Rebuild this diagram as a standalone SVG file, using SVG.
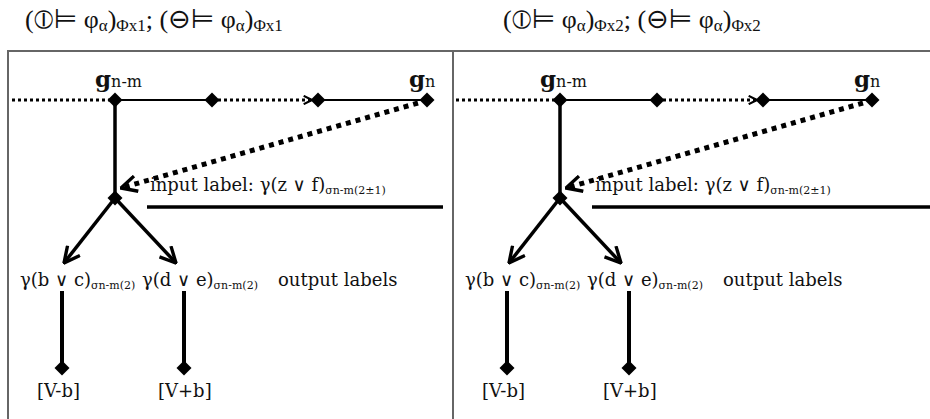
<svg xmlns="http://www.w3.org/2000/svg" width="930" height="419" viewBox="0 0 930 419">
<defs>
<style>
.frame{stroke:#666;stroke-width:2;fill:none}
.title{font-family:"Liberation Serif","DejaVu Serif",serif;font-size:26px;fill:#111}
.sym{font-family:"DejaVu Sans",sans-serif;font-size:27px}
.tsub{font-size:17px}
.lbl{font-family:"DejaVu Serif","Liberation Serif",serif;font-size:18px;fill:#111}
.sub{font-family:"DejaVu Serif","Liberation Serif",serif;font-size:11px;fill:#111}
.g{font-family:"DejaVu Serif",serif;font-size:23px;font-weight:bold;fill:#111}
.gs{font-family:"DejaVu Serif",serif;font-size:16px;font-weight:normal;fill:#111}
.solid{stroke:#000;fill:none}
.dot{stroke:#000;fill:none;stroke-width:3;stroke-dasharray:3 3}
.bigdot{stroke:#000;fill:none;stroke-width:5;stroke-dasharray:5 5}
</style>
<marker id="chevS" viewBox="0 0 12 12" refX="11" refY="6" markerWidth="10" markerHeight="10" markerUnits="userSpaceOnUse" orient="auto">
<path d="M1,1 L11,6 L1,11" fill="none" stroke="#000" stroke-width="2.5"/>
</marker>
<marker id="chevL" viewBox="0 0 16 16" refX="15" refY="8" markerWidth="18" markerHeight="18" markerUnits="userSpaceOnUse" orient="auto">
<path d="M1,1 L15,8 L1,15" fill="none" stroke="#000" stroke-width="3"/>
</marker>
<path id="dm" d="M0,-7.5 L7.5,0 L0,7.5 L-7.5,0 Z"/>
</defs>
<rect width="930" height="419" fill="#fff"/>

<g id="frame">
<line class="frame" x1="7" y1="51" x2="930" y2="51"/>
<line class="frame" x1="8" y1="51" x2="8" y2="419"/>
<line class="frame" x1="453" y1="51" x2="453" y2="419"/>
</g>

<g id="title-left">
<text class="title" x="25" y="28">(<tspan class="sym">⦶⊨</tspan> φ<tspan class="tsub" y="31">α</tspan><tspan y="28">)</tspan><tspan class="tsub" y="31">Φx1</tspan><tspan y="28">; (</tspan><tspan class="sym">⊖⊨</tspan> φ<tspan class="tsub" y="31">α</tspan><tspan y="28">)</tspan><tspan class="tsub" y="31">Φx1</tspan></text>
</g>
<g id="title-right">
<text class="title" x="503" y="28">(<tspan class="sym">⦶⊨</tspan> φ<tspan class="tsub" y="31">α</tspan><tspan y="28">)</tspan><tspan class="tsub" y="31">Φx2</tspan><tspan y="28">; (</tspan><tspan class="sym">⊖⊨</tspan> φ<tspan class="tsub" y="31">α</tspan><tspan y="28">)</tspan><tspan class="tsub" y="31">Φx2</tspan></text>
</g>

<!-- LEFT PANEL -->
<g id="connectors-left">
<line class="dot" x1="12" y1="100" x2="110" y2="100"/>
<line class="solid" stroke-width="2" x1="115" y1="100" x2="212" y2="100"/>
<line class="dot" x1="218" y1="100" x2="312" y2="100" marker-end="url(#chevS)"/>
<line class="solid" stroke-width="2" x1="318" y1="100" x2="427" y2="100"/>
<line class="solid" stroke-width="3.5" x1="115" y1="100" x2="115" y2="197"/>
<line class="bigdot" x1="418" y1="103" x2="121" y2="188" marker-end="url(#chevL)"/>
<line class="solid" stroke-width="3.5" x1="147" y1="207" x2="443" y2="207"/>
<line class="solid" stroke-width="3.5" x1="115" y1="198" x2="64" y2="263" marker-end="url(#chevL)"/>
<line class="solid" stroke-width="3.5" x1="115" y1="198" x2="176" y2="263" marker-end="url(#chevL)"/>
<line class="solid" stroke-width="4" x1="62" y1="291" x2="62" y2="366"/>
<line class="solid" stroke-width="4" x1="184" y1="291" x2="184" y2="366"/>
</g>
<g id="L-gnm"><use href="#dm" x="115" y="100"/><text class="g" x="95" y="87">g<tspan class="gs">n-m</tspan></text></g>
<g id="L-mid1"><use href="#dm" x="212" y="100"/></g>
<g id="L-mid2"><use href="#dm" x="318" y="100"/></g>
<g id="L-gn"><use href="#dm" x="427" y="100"/><text class="g" x="409" y="87">g<tspan class="gs">n</tspan></text></g>
<g id="L-split"><use href="#dm" x="115" y="198"/><text class="lbl" x="150" y="191">input label: γ(z ∨ f)<tspan class="sub" y="194">σn-m(2±1)</tspan></text></g>
<g id="L-out1"><text class="lbl" x="20" y="286">γ(b ∨ c)<tspan class="sub" y="289">σn-m(2)</tspan></text></g>
<g id="L-out2"><text class="lbl" x="142" y="286">γ(d ∨ e)<tspan class="sub" y="289">σn-m(2)</tspan></text></g>
<g id="L-outlbl"><text class="lbl" x="278" y="286">output labels</text></g>
<g id="L-vb"><use href="#dm" x="62" y="368"/><text class="lbl" font-size="20" x="37" y="397">[V-b]</text></g>
<g id="L-vpb"><use href="#dm" x="184" y="368"/><text class="lbl" font-size="20" x="158" y="397">[V+b]</text></g>

<!-- RIGHT PANEL -->
<g id="connectors-right">
<line class="dot" x1="456" y1="100" x2="555" y2="100"/>
<line class="solid" stroke-width="2" x1="560" y1="100" x2="657" y2="100"/>
<line class="dot" x1="663" y1="100" x2="757" y2="100" marker-end="url(#chevS)"/>
<line class="solid" stroke-width="2" x1="763" y1="100" x2="872" y2="100"/>
<line class="solid" stroke-width="3.5" x1="560" y1="100" x2="560" y2="197"/>
<line class="bigdot" x1="863" y1="103" x2="566" y2="188" marker-end="url(#chevL)"/>
<line class="solid" stroke-width="3.5" x1="592" y1="207" x2="930" y2="207"/>
<line class="solid" stroke-width="3.5" x1="560" y1="198" x2="509" y2="263" marker-end="url(#chevL)"/>
<line class="solid" stroke-width="3.5" x1="560" y1="198" x2="621" y2="263" marker-end="url(#chevL)"/>
<line class="solid" stroke-width="4" x1="507" y1="291" x2="507" y2="366"/>
<line class="solid" stroke-width="4" x1="629" y1="291" x2="629" y2="366"/>
</g>
<g id="R-gnm"><use href="#dm" x="560" y="100"/><text class="g" x="540" y="87">g<tspan class="gs">n-m</tspan></text></g>
<g id="R-mid1"><use href="#dm" x="657" y="100"/></g>
<g id="R-mid2"><use href="#dm" x="763" y="100"/></g>
<g id="R-gn"><use href="#dm" x="872" y="100"/><text class="g" x="854" y="87">g<tspan class="gs">n</tspan></text></g>
<g id="R-split"><use href="#dm" x="560" y="198"/><text class="lbl" x="595" y="191">input label: γ(z ∨ f)<tspan class="sub" y="194">σn-m(2±1)</tspan></text></g>
<g id="R-out1"><text class="lbl" x="465" y="286">γ(b ∨ c)<tspan class="sub" y="289">σn-m(2)</tspan></text></g>
<g id="R-out2"><text class="lbl" x="587" y="286">γ(d ∨ e)<tspan class="sub" y="289">σn-m(2)</tspan></text></g>
<g id="R-outlbl"><text class="lbl" x="723" y="286">output labels</text></g>
<g id="R-vb"><use href="#dm" x="507" y="368"/><text class="lbl" font-size="20" x="482" y="397">[V-b]</text></g>
<g id="R-vpb"><use href="#dm" x="629" y="368"/><text class="lbl" font-size="20" x="603" y="397">[V+b]</text></g>
</svg>
